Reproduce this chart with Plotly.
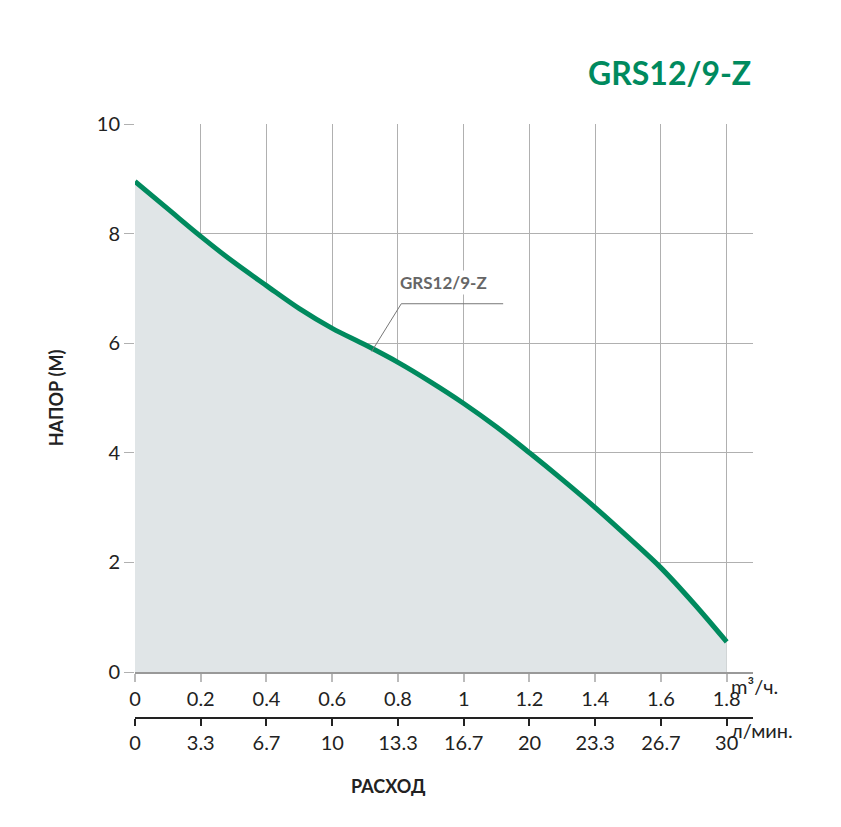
import plotly.graph_objects as go

flow = [0, 0.1, 0.2, 0.3, 0.4, 0.5, 0.6, 0.7, 0.8, 0.9, 1.0, 1.1, 1.2, 1.3, 1.4, 1.5, 1.6, 1.7, 1.8]
head = [8.95, 8.45, 7.95, 7.48, 7.05, 6.63, 6.27, 5.97, 5.65, 5.29, 4.9, 4.47, 4.0, 3.51, 3.0, 2.46, 1.9, 1.25, 0.55]
tick_m3 = [0, 0.2, 0.4, 0.6, 0.8, 1.0, 1.2, 1.4, 1.6, 1.8]
tick_m3_text = ["0", "0.2", "0.4", "0.6", "0.8", "1", "1.2", "1.4", "1.6", "1.8"]
tick_lmin_text = ["0", "3.3", "6.7", "10", "13.3", "16.7", "20", "23.3", "26.7", "30"]

green = "#008a5e"
font = "Lato"

fig = go.Figure()
fig.add_trace(go.Scatter(x=flow, y=head, mode="lines", line=dict(color=green, width=5, shape="spline"),
                         fill="tozeroy", fillcolor="#e0e5e7", showlegend=False))
fig.add_trace(go.Scatter(x=[0], y=[0], xaxis="x2", mode="markers", opacity=0, showlegend=False, hoverinfo="skip"))

ph = 827 - 116 - 80
ydom0 = (827 - 80 - 664) / ph
fig.update_layout(
    width=841, height=827, plot_bgcolor="white", paper_bgcolor="white",
    margin=dict(l=127, r=96, t=116, b=80, autoexpand=False),
    font=dict(family=font, size=20, color="#222"),
    xaxis=dict(range=[0, 1.88], tickvals=tick_m3, ticktext=tick_m3_text, showgrid=True, gridcolor="#b0b0b0",
               zeroline=False, showline=True, linecolor="#999", linewidth=2, ticks="outside", ticklen=8,
               tickcolor="#bbb", tickwidth=2, anchor="y", automargin=False),
    xaxis2=dict(range=[0, 1.88], tickvals=tick_m3, ticktext=tick_lmin_text, overlaying="x", anchor="free",
                position=(747 - 710) / ph, showline=True, linecolor="#222", linewidth=2, ticks="outside",
                ticklen=7, tickcolor="#222", tickwidth=2, showgrid=False, zeroline=False, side="bottom",
                automargin=False),
    yaxis=dict(range=[0, 10], domain=[ydom0, 1], dtick=2, showgrid=True, gridcolor="#b0b0b0", zeroline=False,
               ticks="outside", ticklen=10, tickcolor="#b0b0b0", showline=False, automargin=False,
               title=dict(text="<b>НАПОР (М)</b>", font=dict(size=18), standoff=28)),
    annotations=[
        dict(text="<b>GRS12/9-Z</b>", x=1, y=1.115, xref="paper", yref="paper", xanchor="right", showarrow=False,
             font=dict(size=32, color=green)),
        dict(text="<b>РАСХОД</b>", x=0.41, y=-0.07, xref="paper", yref="paper", showarrow=False,
             font=dict(size=18)),
        dict(text="m³/ч.", x=1.808, y=(747 - 692) / ph, xref="x", yref="paper", xanchor="left", showarrow=False),
        dict(text="л/мин.", x=1.808, y=(747 - 736) / ph, xref="x", yref="paper", xanchor="left", showarrow=False),
        dict(text="<b>GRS12/9-Z</b>", x=0.8, y=7.1, xref="x", yref="y", xanchor="left", showarrow=False,
             font=dict(size=17, color="#666"), bgcolor="white"),
    ],
    shapes=[
        dict(type="line", x0=0.72, y0=5.85, x1=0.81, y1=6.72, line=dict(color="#777", width=1)),
        dict(type="line", x0=0.81, y0=6.72, x1=1.12, y1=6.72, line=dict(color="#777", width=1)),
    ],
)
fig.write_html("out.html")
